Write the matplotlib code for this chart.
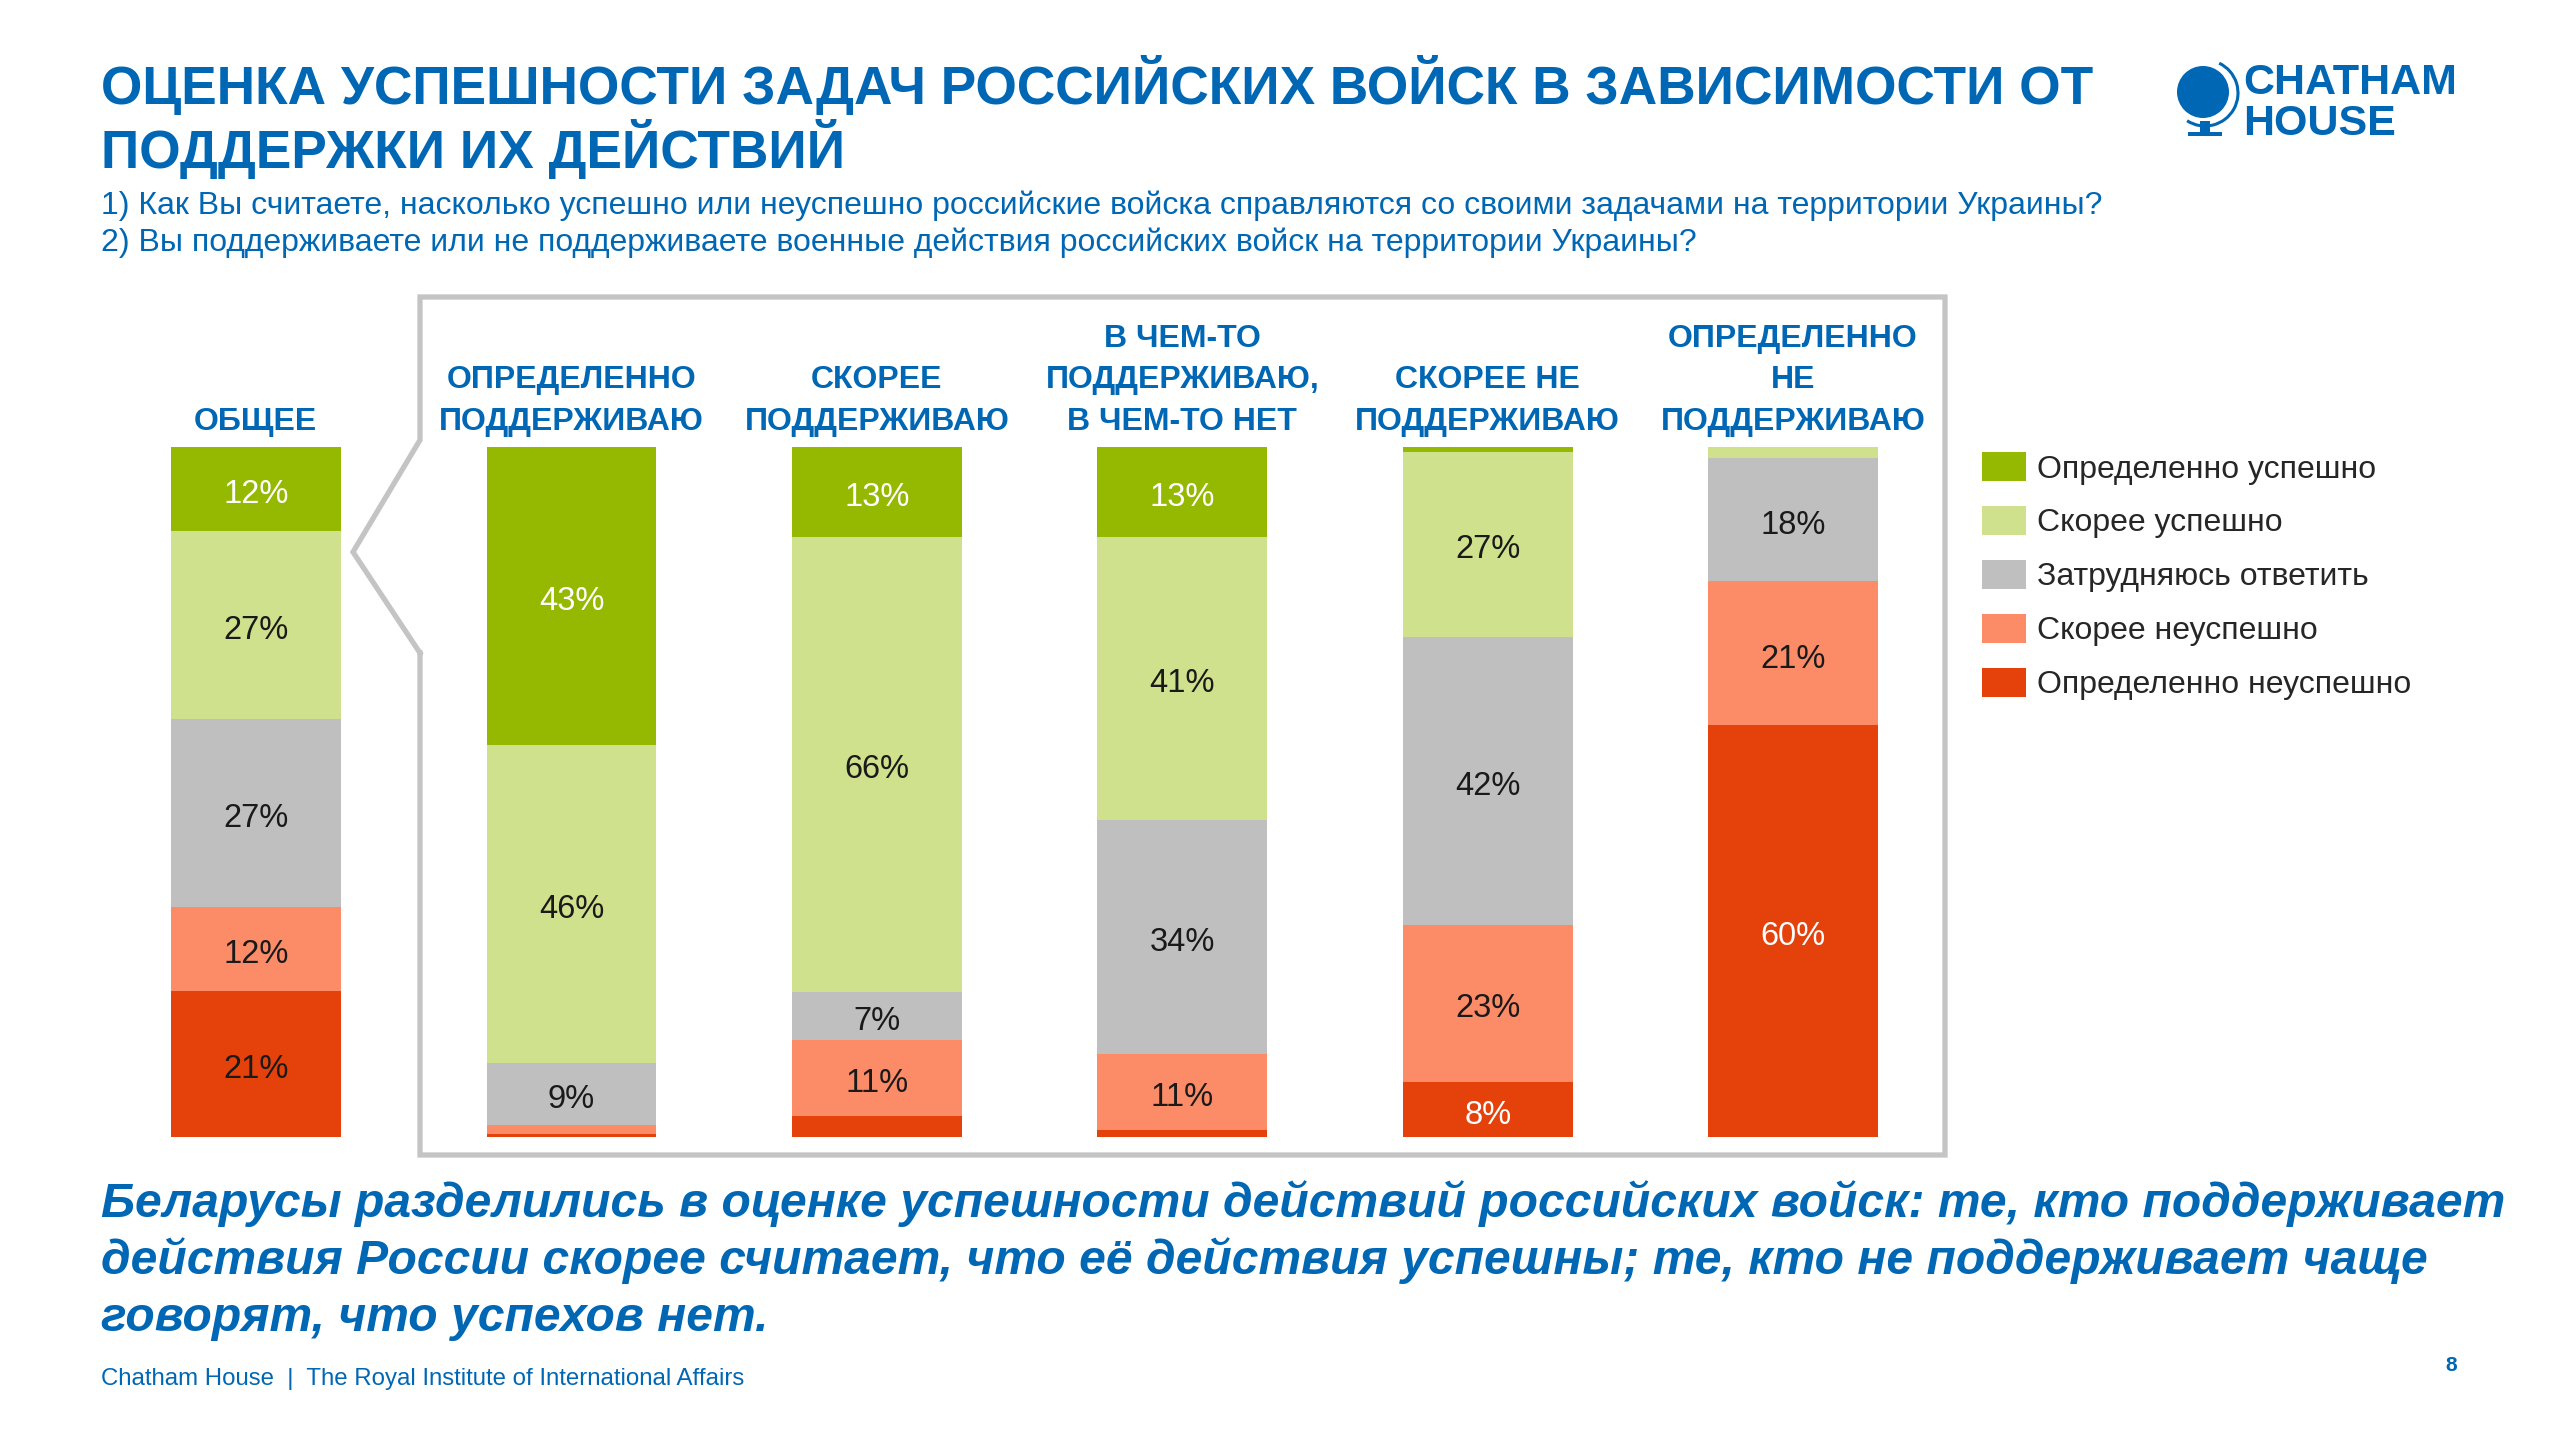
import matplotlib.pyplot as plt
import numpy as np
from matplotlib.lines import Line2D
from matplotlib.patches import Ellipse, Rectangle, Arc

plt.rcParams['font.family'] = ['Liberation Sans', 'DejaVu Sans']

W, H = 2560, 1440
BLUE = '#0067b4'

groups = ['ОБЩЕЕ', 'ОПРЕДЕЛЕННО\nПОДДЕРЖИВАЮ', 'СКОРЕЕ\nПОДДЕРЖИВАЮ',
          'В ЧЕМ-ТО\nПОДДЕРЖИВАЮ,\nВ ЧЕМ-ТО НЕТ', 'СКОРЕЕ НЕ\nПОДДЕРЖИВАЮ',
          'ОПРЕДЕЛЕННО\nНЕ\nПОДДЕРЖИВАЮ']
categories = ['Определенно успешно', 'Скорее успешно', 'Затрудняюсь ответить',
              'Скорее неуспешно', 'Определенно неуспешно']

def_success = [12, 43, 13, 13, 0.7, 0]
rather_success = [27, 46, 66, 41, 27, 1.6]
hard_to_say = [27, 9, 7, 34, 42, 18]
rather_fail = [12, 1.3, 11, 11, 23, 21]
def_fail = [21, 0.4, 3, 1, 8, 60]

colors = ['#95b800', '#cfe18c', '#bfbfbf', '#fb8c67', '#e4410b']
# label colour on the darkest segments differs from bar to bar
green_lbl = ['white'] * 6
red_lbl = ['#1a1a1a', 'white', 'white', 'white', 'white', 'white']

title_lines = ['ОЦЕНКА УСПЕШНОСТИ ЗАДАЧ РОССИЙСКИХ ВОЙСК В ЗАВИСИМОСТИ ОТ',
               'ПОДДЕРЖКИ ИХ ДЕЙСТВИЙ']
questions = ['1) Как Вы считаете, насколько успешно или неуспешно российские войска справляются со своими задачами на территории Украины?',
             '2) Вы поддерживаете или не поддерживаете военные действия российских войск на территории Украины?']
conclusion = ['Беларусы разделились в оценке успешности действий российских войск: те, кто поддерживает',
              'действия России скорее считает, что её действия успешны; те, кто не поддерживает чаще',
              'говорят, что успехов нет.']

series = [def_success, rather_success, hard_to_say, rather_fail, def_fail]
data = np.array(series, dtype=float)
pct = data / data.sum(axis=0) * 100

fig = plt.figure(figsize=(25.6, 14.4), dpi=100)

def fx(x):
    return x / W

def fy(y):
    return 1 - y / H

# bars axes: y from 0 (bottom, px 1137) to 100 (top, px 447)
ax = fig.add_axes([0, fy(1137), 1, (1137 - 447) / H])
xpos = np.array([-0.034, 1, 2, 3, 4, 5])
ax.set_xlim(1 - 571.5 / 305.4, 1 - 571.5 / 305.4 + W / 305.4)
ax.set_ylim(0, 100)
ax.axis('off')

bottom = np.zeros(len(groups))
handles = []
for i in range(len(categories) - 1, -1, -1):
    b = ax.bar(xpos, pct[i], bottom=bottom, width=0.556, color=colors[i],
               label=categories[i], linewidth=0)
    handles.insert(0, b)
    for j, v in enumerate(series[i]):
        if v >= 5:
            if i == 0:
                c = green_lbl[j]
            elif i == 4:
                c = red_lbl[j]
            else:
                c = '#1a1a1a'
            ax.annotate(f'{v:.0f}%', (xpos[j], bottom[j] + pct[i][j] / 2),
                        xytext=(0, -4), textcoords='offset points',
                        ha='center', va='center', fontsize=23.5, color=c)
    bottom += pct[i]

# group headings
for j, g in enumerate(groups):
    ax.text(xpos[j], 101.5, g, ha='center', va='bottom', fontsize=23,
            fontweight='bold', color=BLUE, linespacing=1.5)

# callout frame
frame = [(420, 653), (420, 1155), (1945, 1155), (1945, 297), (420, 297),
         (420, 440), (353, 552), (420, 653)]
fig.add_artist(Line2D([fx(p[0]) for p in frame], [fy(p[1]) for p in frame],
                      color='#c4c4c4', lw=3.8, solid_joinstyle='miter'))

# legend
fig.legend(handles, categories, loc='upper left',
           bbox_to_anchor=(fx(1982), fy(452)), frameon=False, fontsize=23,
           handlelength=1.375, handleheight=1.03, handletextpad=0.35,
           labelspacing=0.67, labelcolor='#262626', borderaxespad=0,
           borderpad=0)

# titles
for k, line in enumerate(title_lines):
    fig.text(fx(101), fy(104 + 64 * k), line, fontsize=38.3, fontweight='bold',
             color=BLUE, va='baseline')
for k, line in enumerate(questions):
    fig.text(fx(101), fy(214 + 37 * k), line, fontsize=23, color=BLUE,
             va='baseline')

# conclusion
for k, line in enumerate(conclusion):
    fig.text(fx(101), fy(1217 + 57 * k), line, fontsize=34.6, fontweight='bold',
             fontstyle='italic', color=BLUE, va='baseline')

# footer
fig.text(fx(101), fy(1385), 'Chatham House  |  The Royal Institute of International Affairs',
         fontsize=17.3, color=BLUE, va='baseline')
fig.text(fx(2451), fy(1371), '8', fontsize=15, fontweight='bold', color=BLUE,
         va='baseline', ha='center')

# logo
fig.add_artist(Ellipse((fx(2203), fy(92)), 52 / W, 52 / H,
                       transform=fig.transFigure, facecolor=BLUE, edgecolor='none'))
fig.add_artist(Arc((fx(2205), fy(93)), 66 / W, 66 / H, theta1=-110, theta2=75,
                   transform=fig.transFigure, color=BLUE, lw=2.2))
fig.add_artist(Rectangle((fx(2200), fy(133)), 10 / W, 12 / H,
                         transform=fig.transFigure, facecolor=BLUE, edgecolor='none'))
fig.add_artist(Rectangle((fx(2188), fy(136)), 34 / W, 4 / H,
                         transform=fig.transFigure, facecolor=BLUE, edgecolor='none'))
fig.text(fx(2243), fy(94), 'CHATHAM', fontsize=31, fontweight='bold', color=BLUE,
         va='baseline')
fig.text(fx(2243), fy(135), 'HOUSE', fontsize=31, fontweight='bold', color=BLUE,
         va='baseline')

fig.savefig('out.png', dpi=100, facecolor='white')
